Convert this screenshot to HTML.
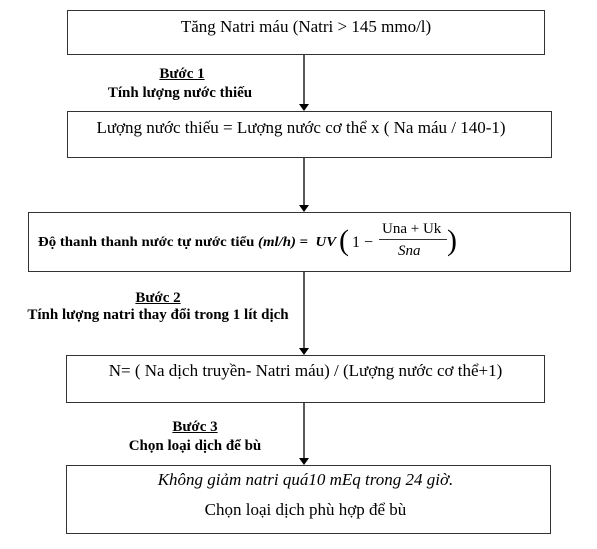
<!DOCTYPE html>
<html><head><meta charset="utf-8"><style>
body{margin:0;width:597px;height:549px;background:#fff;position:relative;font-family:"Liberation Serif","Noto Serif CJK SC",serif;color:#000;overflow:hidden}
.b{position:absolute;border:1.5px solid #333;box-sizing:border-box}
.t{position:absolute;white-space:nowrap;font-size:17px;line-height:20px}
.l{position:absolute;white-space:nowrap;font-size:15px;font-weight:bold;transform:translateX(-50%);text-align:center;line-height:18px}
</style></head><body>
<div class="b" style="left:67px;top:10px;width:478px;height:45px"></div>
<div class="t" style="left:67px;width:478px;text-align:center;top:17px">Tăng Natri máu (Natri &gt; 145 mmo/l)</div>
<div class="b" style="left:67px;top:111px;width:485px;height:47px"></div>
<div class="t" style="left:67px;width:468px;text-align:center;top:118px">Lượng nước thiếu = Lượng nước cơ thể x ( Na máu / 140-1)</div>
<div class="b" style="left:28px;top:212px;width:543px;height:60px"></div>
<div class="t" style="left:38px;top:233px;font-size:14px;font-weight:bold;transform:scaleX(1.06);transform-origin:left">Độ thanh thanh nước tự nước tiểu <i>(ml/h)</i> = &nbsp;<i>UV</i></div>
<div class="t" style="left:339px;top:226px;font-size:30px;line-height:30px;font-weight:100">(</div>
<div class="t" style="left:352px;top:233px;font-size:16px">1 −</div>
<div class="t" style="left:382px;top:219px;font-size:15px">Una + Uk</div>
<div style="position:absolute;left:379px;top:239px;width:68px;border-top:1px solid #333"></div>
<div class="t" style="left:398px;top:241px;font-size:15px"><i>Sna</i></div>
<div class="t" style="left:447px;top:226px;font-size:30px;line-height:30px;font-weight:100">)</div>
<div class="b" style="left:66px;top:355px;width:479px;height:48px"></div>
<div class="t" style="left:66px;width:479px;text-align:center;top:361px">N= ( Na dịch truyền- Natri máu) / (Lượng nước cơ thể+1)</div>
<div class="b" style="left:66px;top:465px;width:485px;height:69px"></div>
<div class="t" style="left:66px;width:479px;text-align:center;top:470px"><i>Không giảm natri quá10 mEq trong 24 giờ.</i></div>
<div class="t" style="left:66px;width:479px;text-align:center;top:500px">Chọn loại dịch phù hợp để bù</div>
<div class="l" style="left:182px;top:65px;text-decoration:underline">Bước 1</div>
<div class="l" style="left:180px;top:84px">Tính lượng nước thiếu</div>
<div class="l" style="left:158px;top:289px;text-decoration:underline">Bước 2</div>
<div class="l" style="left:158px;top:306px">Tính lượng natri thay đổi trong 1 lít dịch</div>
<div class="l" style="left:195px;top:418px;text-decoration:underline">Bước 3</div>
<div class="l" style="left:195px;top:437px">Chọn loại dịch để bù</div>
<svg width="597" height="549" style="position:absolute;left:0;top:0">
<g stroke="#000" stroke-width="1.3">
<line x1="304" y1="55" x2="304" y2="104"/>
<line x1="304" y1="158" x2="304" y2="205"/>
<line x1="304" y1="272" x2="304" y2="348"/>
<line x1="304" y1="403" x2="304" y2="458"/>
</g>
<g fill="#000">
<polygon points="299,104 309,104 304,111"/>
<polygon points="299,205 309,205 304,212"/>
<polygon points="299,348 309,348 304,355"/>
<polygon points="299,458 309,458 304,465"/>
</g>
</svg>
</body></html>
